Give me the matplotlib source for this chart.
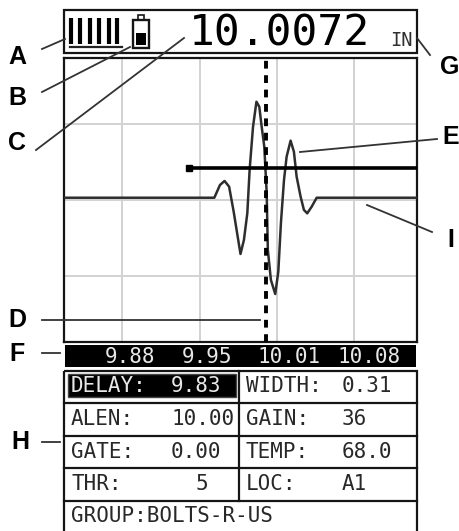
import matplotlib
matplotlib.use('Agg')
import matplotlib.pyplot as plt
from matplotlib.patches import Rectangle

# waveform, x in inches, y in percent of half screen
wave_x = [9.830, 9.962, 9.967, 9.971, 9.975, 9.979, 9.982, 9.985, 9.988, 9.991, 9.993, 9.996, 9.999,
          10.0015, 10.0036, 10.0059, 10.008, 10.009, 10.0117, 10.0155, 10.0182, 10.0205, 10.0232,
          10.0255, 10.029, 10.0319, 10.0343, 10.0378, 10.0407, 10.0436, 10.0475, 10.0519, 10.140]
wave_y = [1.6, 1.6, 10.6, 13.4, 9.4, -8.2, -23.2, -38.0, -28.2, -9.2, 21.1, 51.6, 69.2,
          65.7, 51.6, 37.5, 4.9, -35.2, -56.3, -66.2, -50.5, -16.2, 14.1,
          30.5, 41.8, 34.0, 16.4, 2.3, -7.0, -9.4, -4.7, 1.6, 1.6]

reading = 10.0072
gate_start = 9.940
gate_end = 10.140
gate_level = 22.5
grid_x = [9.881, 9.949, 10.017, 10.085]
grid_y = [-53.5, 0, 53.5]

tick_labels = ['9.88', '9.95', '10.01', '10.08']
tick_right = [155, 232, 321, 401]

left_rows = [('DELAY:', '9.83'), ('ALEN:', '10.00'), ('GATE:', '0.00'), ('THR:', '5')]
right_rows = [('WIDTH:', '0.31'), ('GAIN:', '36'), ('TEMP:', '68.0'), ('LOC:', 'A1')]
group_text = 'GROUP:BOLTS-R-US'
left_val_right = [221, 235, 221, 208]

callouts = {'A': ((17, 57), (42, 49), (65, 39)),
            'B': ((17, 98), (42, 92), (130, 47)),
            'C': ((17, 143), (36, 150), (184, 38)),
            'D': ((17, 320), (42, 320), (260, 320)),
            'E': ((451, 137), (437, 139), (300, 152)),
            'F': ((17, 354), (42, 353), (60, 353)),
            'G': ((450, 67), (430, 55), (417, 38)),
            'H': ((20, 442), (42, 442), (60, 442)),
            'I': ((451, 240), (432, 232), (367, 205))}

W, H = 459, 531
DARK = '#151515'
MONO = 'DejaVu Sans Mono'

fig = plt.figure(figsize=(W / 100, H / 100), dpi=100, facecolor='white')

# scope screen
ax = fig.add_axes([64 / W, 1 - 342 / H, 353 / W, 284 / H])
ax.set_xlim(9.83, 10.14)
ax.set_ylim(-100, 100)
ax.set_xticks([])
ax.set_yticks([])
for s in ax.spines.values():
    s.set_linewidth(1.6)
    s.set_color(DARK)
for g in grid_x:
    ax.axvline(g, color='#d2d2d2', lw=1.4, zorder=1)
for g in grid_y:
    ax.axhline(g, color='#d2d2d2', lw=1.4, zorder=1)
ax.plot(wave_x, wave_y, color='#2e2e2e', lw=1.8, zorder=3)
ax.plot([gate_start, gate_end], [gate_level, gate_level], color='black', lw=2.6, zorder=4)
ax.plot([gate_start], [gate_level], marker='s', ms=5, mfc='black', mec='black', zorder=4)
ax.axvline(reading, color='black', lw=2.8, ls=(0, (2.0, 1.7)), zorder=5)

# everything else in image pixels
ov = fig.add_axes([0, 0, 1, 1], facecolor='none')
ov.set_xlim(0, W)
ov.set_ylim(H, 0)
ov.axis('off')


def box(x0, y0, x1, y1, fc='none', ec=DARK, lw=1.4):
    ov.add_patch(Rectangle((x0, y0), x1 - x0, y1 - y0, fc=fc, ec=ec, lw=lw, clip_on=False))


# header
box(64, 10, 417, 53, lw=1.6)
for bx in [71, 80, 90, 99, 109, 117]:
    ov.plot([bx, bx], [18, 44], color='black', lw=3, solid_capstyle='butt')
ov.plot([70, 122], [47, 47], color='#222222', lw=1.6)
box(133, 20, 149, 48, lw=1.7)
box(138, 15, 144, 20, lw=1.2)
box(136, 33, 146, 45, fc='black', ec='black', lw=0)
ov.text(279, 33, f'{reading:.4f}', family=MONO, fontsize=31, color='black', ha='center', va='center')
ov.text(401, 41, 'IN', family=MONO, fontsize=13.5, color='#303030', ha='center', va='center')

# distance bar
box(65, 345, 416, 367, fc='black', ec='black', lw=0)
for lab, xr in zip(tick_labels, tick_right):
    ov.text(xr, 357, lab, family=MONO, fontsize=15, color='#e8e8e8', ha='right', va='center')

# settings table
row_y = [371, 403, 436, 468, 501]
box(64, 371, 417, 540, lw=1.6)
for y in row_y[1:]:
    ov.plot([64, 417], [y, y], color=DARK, lw=1.6)
ov.plot([239, 239], [371, 501], color=DARK, lw=1.6)
box(68, 374, 236, 397, fc='black', ec='#444444', lw=1)
for i, ((l1, v1), (l2, v2)) in enumerate(zip(left_rows, right_rows)):
    yc = (row_y[i] + row_y[i + 1]) / 2 - 0.5
    col = '#e8e8e8' if i == 0 else '#282828'
    ov.text(71, yc, l1, family=MONO, fontsize=15, color=col, ha='left', va='center')
    ov.text(left_val_right[i], yc, v1, family=MONO, fontsize=15, color=col, ha='right', va='center')
    ov.text(246, yc, l2, family=MONO, fontsize=15, color='#282828', ha='left', va='center')
    ov.text(342, yc, v2, family=MONO, fontsize=15, color='#282828', ha='left', va='center')
ov.text(71, 516, group_text, family=MONO, fontsize=15, color='#282828', ha='left', va='center')

# callout letters
for letter, (pos, p0, p1) in callouts.items():
    ov.text(pos[0], pos[1], letter, family='Liberation Sans', fontweight='bold', fontsize=18,
            color='black', ha='center', va='center')
    ov.plot([p0[0], p1[0]], [p0[1], p1[1]], color='#333333', lw=1.3, zorder=6)

fig.savefig('out.png', dpi=100)
